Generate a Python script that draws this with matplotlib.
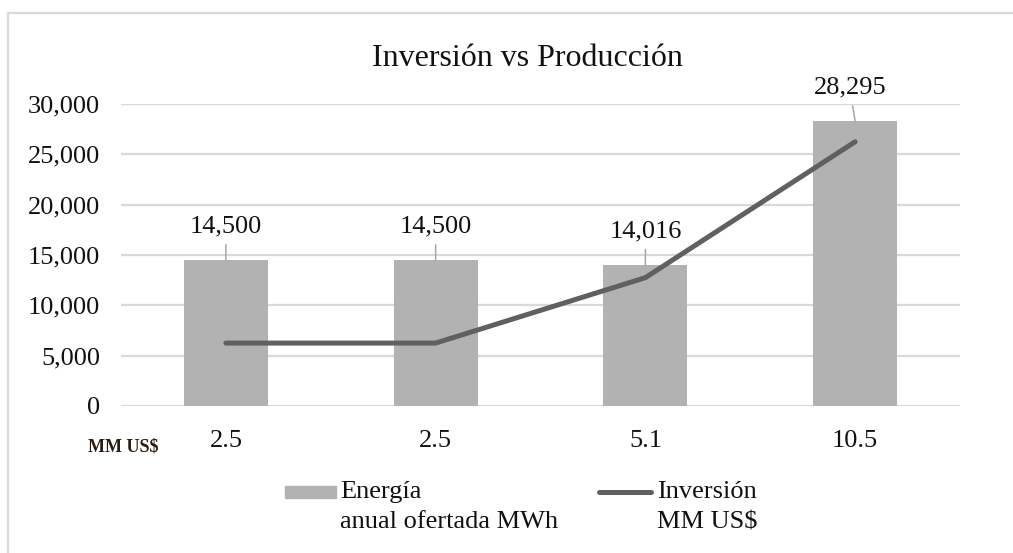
import numpy as np
import matplotlib.pyplot as plt
from matplotlib.lines import Line2D
from matplotlib.patches import Rectangle

plt.rcParams["font.family"] = ["Liberation Serif", "DejaVu Serif"]

# investment per project (MM US$) and yearly energy offered (MWh)
inversion = ["2.5", "2.5", "5.1", "10.5"]
energia = [14500, 14500, 14016, 28295]
# investment line as drawn on the energy axis
inversion_linea = [6250, 6250, 12750, 26250]

bar_color = "#b2b2b2"
line_color = "#606060"
grid_color = "#d9d9d9"
text_color = "#111111"
fs = 19

fig = plt.figure(figsize=(10.13, 5.53), dpi=100)
W, H = 1013, 553
ax = fig.add_axes([121 / W, 1 - 406 / H, 839 / W, 302 / H])

x = np.arange(len(energia))
ax.bar(x, energia, width=0.4, color=bar_color, zorder=2)
ax.plot(x, inversion_linea, color=line_color, lw=3.6, solid_capstyle="round",
        solid_joinstyle="round", zorder=3)

ax.set_xlim(-0.5, len(energia) - 0.5)
ax.set_ylim(0, 30000)
ax.set_yticks(np.arange(0, 30001, 5000))
ax.set_yticklabels([f"{v:,.0f}" for v in np.arange(0, 30001, 5000)])
ax.set_xticks(x)
ax.set_xticklabels(inversion)
ax.tick_params(axis="both", length=0, labelsize=fs, colors=text_color)
ax.tick_params(axis="y", pad=15)
ax.tick_params(axis="x", pad=17)
for s in ax.spines.values():
    s.set_visible(False)
ax.grid(axis="y", color=grid_color, lw=1.6, zorder=0)
ax.set_axisbelow(True)

# value labels with short leader lines
for xi, v in zip(x, energia):
    dx = -0.025 if v > 25000 else 0.0
    ax.annotate(f"{v:,.0f}", xy=(xi, v), xytext=(xi + dx, v + 3300),
                ha="center", va="center", fontsize=fs, color=text_color,
                annotation_clip=False,
                arrowprops=dict(arrowstyle="-", color="#a6a6a6", lw=1.1,
                                shrinkA=3, shrinkB=0))

fig.text(527 / W, 1 - 58 / H, "Inversión vs Producción", ha="center",
         va="center", fontsize=23, color=text_color)
fig.text(123 / W, 1 - 447 / H, "MM US$", ha="center", va="center",
         fontsize=13, fontweight="bold", color="#2a1c12")

# legend
fig.patches.append(Rectangle((285 / W, 1 - 498 / H), 51 / W, 12 / H,
                             transform=fig.transFigure, color=bar_color))
fig.text(340 / W, 1 - 492 / H, "Energía", ha="left", va="center",
         fontsize=fs, color=text_color)
fig.text(340 / W, 1 - 522 / H, "anual ofertada MWh", ha="left", va="center",
         fontsize=fs, color=text_color)
fig.lines.append(Line2D([599 / W, 651 / W], [1 - 492 / H, 1 - 492 / H],
                        transform=fig.transFigure, color=line_color, lw=3.6,
                        solid_capstyle="round"))
fig.text(657 / W, 1 - 492 / H, "Inversión", ha="left", va="center",
         fontsize=fs, color=text_color)
fig.text(657 / W, 1 - 522 / H, "MM US$", ha="left", va="center",
         fontsize=fs, color=text_color)

# chart frame
fig.lines.append(Line2D([8 / W, 1], [1 - 13 / H, 1 - 13 / H],
                        transform=fig.transFigure, color=grid_color, lw=1.6))
fig.lines.append(Line2D([8 / W, 8 / W], [1 - 13 / H, 0],
                        transform=fig.transFigure, color=grid_color, lw=1.6))

fig.savefig("out.png", dpi=100, facecolor="white")
